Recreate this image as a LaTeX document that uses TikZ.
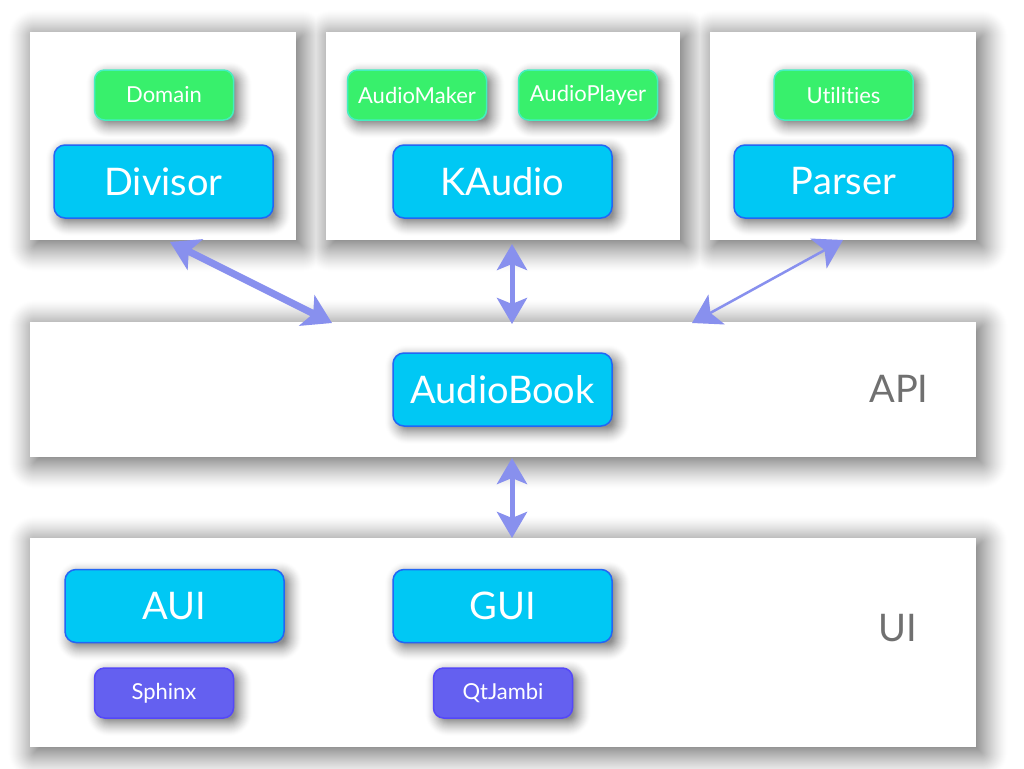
\documentclass[tikz,border=0pt]{standalone}
\usepackage{fontspec}
\setmainfont{Lato}[Ligatures={NoCommon}]
\usetikzlibrary{arrows.meta}
\definecolor{cyanfill}{HTML}{00C8F4}
\definecolor{cyanline}{HTML}{2266F5}
\definecolor{greenfill}{HTML}{38F06C}
\definecolor{greenline}{HTML}{44EEC0}
\definecolor{purplefill}{HTML}{6460F0}
\definecolor{purpleline}{HTML}{5548F8}
\definecolor{arrowc}{HTML}{8890EE}
\definecolor{labelgray}{HTML}{707070}
\pgfdeclarelayer{pagelayer}
\pgfdeclarelayer{panellayer}
\pgfdeclarelayer{boxshadowlayer}
\pgfsetlayers{pagelayer,panellayer,boxshadowlayer,main}
% one opaque shadow ring: #1 node, #2 offset, #3 expansion, #4 darkness, #5 base corner radius
\newcommand\myshadowlevel[5]{%
  \pgfmathsetmacro\myxa{#2-#3}%
  \pgfmathsetmacro\myxb{#2+#3}%
  \pgfmathsetmacro\myya{-#2-#3}%
  \pgfmathsetmacro\myyb{-#2+#3}%
  \pgfmathsetmacro\myrc{max(#5+#3,0.5)}%
  \fill[black!#4,rounded corners=\myrc pt]
    ([xshift=\myxa pt, yshift=\myya pt]#1.south west) rectangle
    ([xshift=\myxb pt, yshift=\myyb pt]#1.north east);
}
\tikzset{
  panel/.style={fill=white, inner sep=0pt},
  bigbox/.style={rounded corners=11pt, fill=cyanfill, draw=cyanline, line width=1.5pt,
    minimum width=219pt, minimum height=73pt, inner sep=0pt, text=white,
    font=\fontsize{38}{40}\selectfont},
  greenbox/.style={rounded corners=10pt, fill=greenfill, draw=greenline, line width=1.5pt,
    minimum width=139pt, minimum height=50pt, inner sep=0pt, text=white,
    font=\fontsize{22}{24}\selectfont},
  purplebox/.style={greenbox, fill=purplefill, draw=purpleline},
  layerlabel/.style={text=labelgray, font=\fontsize{38}{40}\selectfont},
  biarrow/.style={draw=arrowc, fill=arrowc,
    {Stealth[length=28pt,width=34pt,inset=7pt]}-{Stealth[length=28pt,width=34pt,inset=7pt]}},
  smallheads/.style={{Stealth[length=26pt,width=30pt,inset=6pt]}-{Stealth[length=26pt,width=30pt,inset=6pt]}},
}
\begin{document}
\begin{tikzpicture}[x=1pt,y=-1pt]
\useasboundingbox (0,0) rectangle (1024,768);
% panels
\begin{pgfonlayer}{panellayer}
\node[panel, minimum width=266pt, minimum height=208pt] (p1) at (163,136) {};
\node[panel, minimum width=354pt, minimum height=208pt] (p2) at (503,136) {};
\node[panel, minimum width=266pt, minimum height=208pt] (p3) at (843,136) {};
\node[panel, minimum width=946pt, minimum height=135pt] (api) at (503,389.5) {};
\node[panel, minimum width=946pt, minimum height=209pt] (ui) at (503,642.5) {};
\end{pgfonlayer}
% top boxes
\node[greenbox] (domain) at (164,95) {Domain};
\node[bigbox] (divisor) at (163.5,181.5) {Divisor};
\node[greenbox] (maker) at (417,95) {AudioMaker};
\node[greenbox] (player) at (588,95) {AudioPlayer};
\node[bigbox] (kaudio) at (502.5,181.5) {KAudio};
\node[greenbox] (util) at (843.5,95) {Utilities};
\node[bigbox] (parser) at (843.5,181.5) {Parser};
% api
\node[bigbox] (audiobook) at (502.5,389.5) {AudioBook};
\node[layerlabel] (apilabel) at (899,389) {API};
% ui
\node[bigbox] (aui) at (174.5,606) {AUI};
\node[bigbox] (gui) at (502.5,606) {GUI};
\node[purplebox] (sphinx) at (164,693) {Sphinx};
\node[purplebox] (qtjambi) at (503,693) {QtJambi};
\node[layerlabel] (uilabel) at (898,628) {UI};
% shadows
\begin{pgfonlayer}{pagelayer}
\fill[white] (0,0) rectangle (1024,768);
\foreach \k in {0,...,34}{%
  \pgfmathsetmacro\mye{26-\k}%
  \pgfmathsetmacro\myd{48*((\k+1)/35)^1.3}%
  \foreach \p in {p1,p2,p3,api,ui}{\myshadowlevel{\p}{5}{\mye}{\myd}{0}}%
}
\end{pgfonlayer}
\begin{pgfonlayer}{boxshadowlayer}
\foreach \k in {0,...,17}{%
  \pgfmathsetmacro\mye{12-\k}%
  \pgfmathsetmacro\myd{44*((\k+1)/18)^1.4}%
  \foreach \b in {domain,divisor,maker,kaudio,player,util,parser,audiobook,aui,gui,sphinx,qtjambi}{\myshadowlevel{\b}{5}{\mye}{\myd}{10}}%
}
\end{pgfonlayer}
% arrow end points
\coordinate (a1s) at (170,242);
\coordinate (a1e) at (332,323);
\coordinate (a2s) at (512,244);
\coordinate (a2e) at (512,324);
\coordinate (a3s) at (843,240);
\coordinate (a3e) at (692,323);
\coordinate (a4s) at (512,458);
\coordinate (a4e) at (512,538);
\draw[biarrow, line width=7pt] (a1s) -- (a1e);
\draw[biarrow, line width=5pt, smallheads] (a2s) -- (a2e);
\draw[biarrow, line width=2.5pt] (a3s) -- (a3e);
\draw[biarrow, line width=5pt, smallheads] (a4s) -- (a4e);
\end{tikzpicture}
\end{document}
